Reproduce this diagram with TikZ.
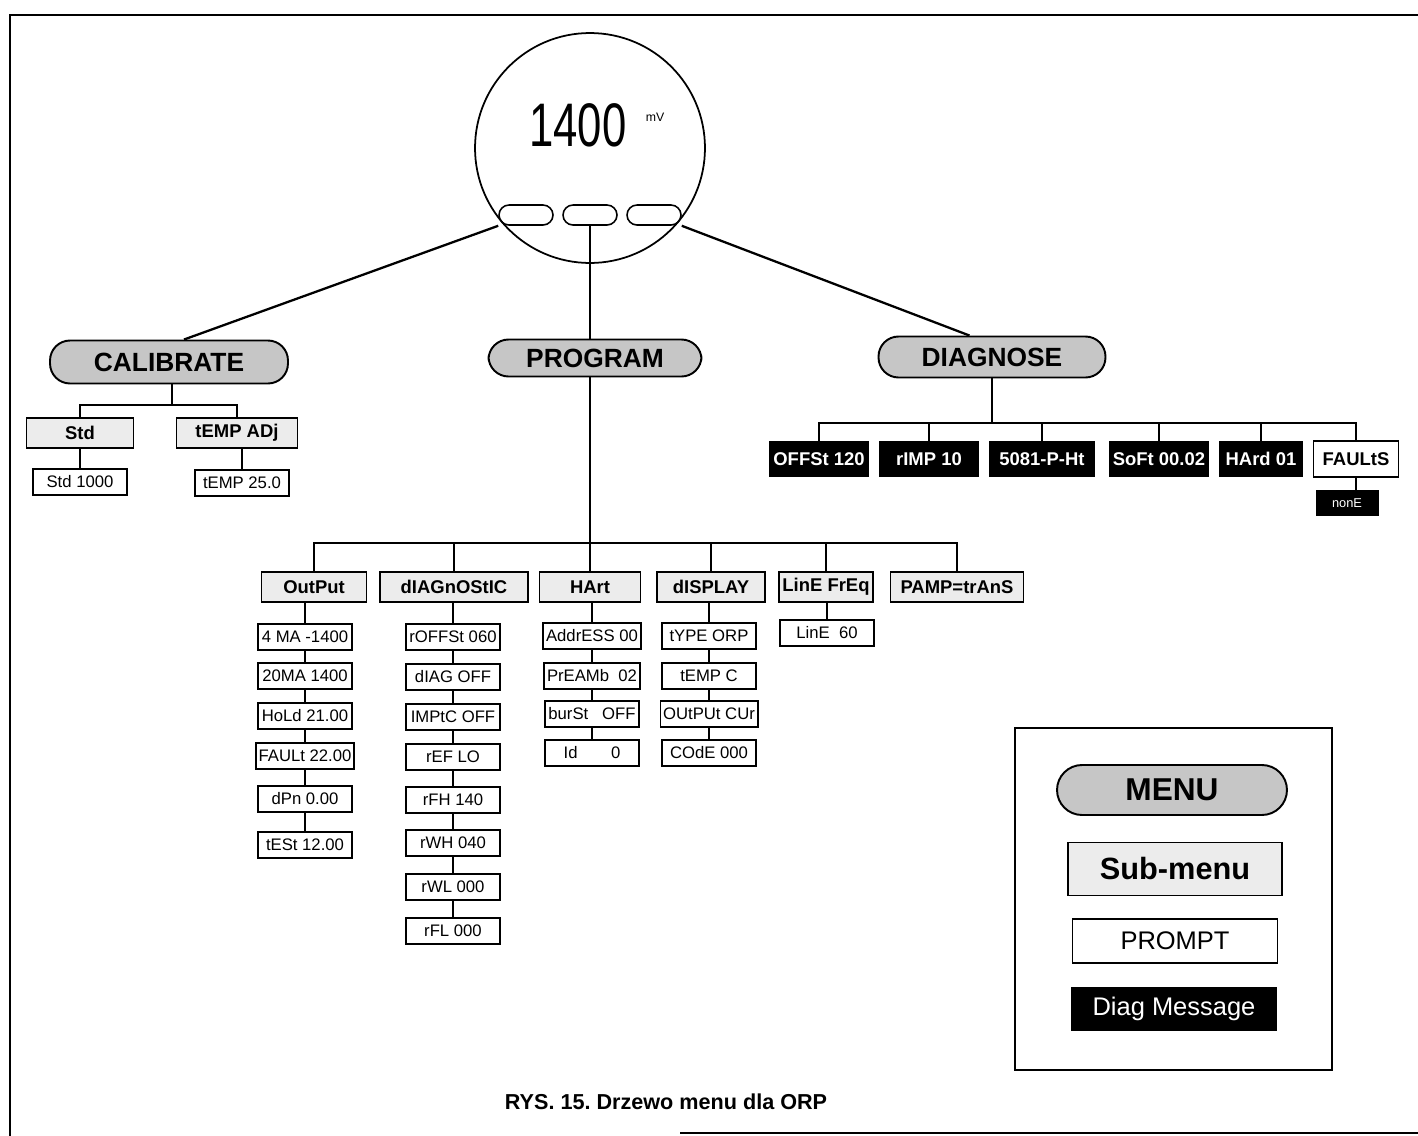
\documentclass[tikz,border=0pt]{standalone}
\usepackage{fontspec}
\setmainfont{Liberation Sans}
\frenchspacing
\tikzset{
  menu/.style={draw, line width=1.1pt, fill=gray!45, rounded corners=0.4cm, inner sep=0pt, font=\fontsize{15}{16}\selectfont\bfseries},
  submenu/.style={draw, line width=1.1pt, fill=gray!15, minimum height=0.6cm, inner sep=0pt, font=\fontsize{10.5}{12}\selectfont\bfseries},
  prompt/.style={draw, line width=1.1pt, fill=white, minimum width=1.88cm, minimum height=0.52cm, inner sep=0pt, inner xsep=1.5pt, font=\fontsize{9.5}{10}\selectfont},
  diagmsg/.style={fill=black, text=white, minimum height=0.72cm, inner sep=0pt, font=\fontsize{10.5}{12}\selectfont\bfseries},
  button/.style={draw, line width=0.9pt, rounded corners=0.2cm, minimum width=1.08cm, minimum height=0.4cm, inner sep=0pt},
  link/.style={line width=1.3pt},
}
\begin{document}
\begin{tikzpicture}[x=0.02cm, y=-0.02cm]
\useasboundingbox (0,0) rectangle (1418,1136);
% frame
\draw[line width=1.2pt] (10,1136) -- (10,15) -- (1418,15);
\draw[line width=1.2pt] (680,1133) -- (1418,1133);

% meter face
\node[circle, draw, line width=1pt, minimum size=4.6cm] (dial) at (590,148) {};
\node (disp) at (578,125) {\scalebox{0.71}[1]{\fontsize{35}{35}\selectfont 1400}};
\node (unit) at (655,117) {\fontsize{7}{8}\selectfont mV};
\node[button] (btnl) at (526,215) {};
\node[button] (btnm) at (590,215) {};
\node[button] (btnr) at (654,215) {};

% menus
\node[menu, minimum width=4.76cm, minimum height=0.86cm] (cal) at (169,362) {CALIBRATE};
\node[menu, minimum width=4.26cm, minimum height=0.74cm] (prog) at (595,358) {PROGRAM};
\node[menu, minimum width=4.54cm, minimum height=0.82cm] (diag) at (992,357) {DIAGNOSE};
\draw[link] (btnl.south west) -- ([xshift=0.3cm]cal.north);
\draw[link] (btnm.south) -- (btnm.south |- prog.north);
\draw[link] (btnr.south east) -- ([xshift=-0.45cm]diag.north);

% CALIBRATE branch
\node[submenu, minimum width=2.14cm] (std) at (80,433) {Std};
\node[submenu, minimum width=2.42cm] (tadj) at (237,433) {tEMP ADj};
\node[prompt] (stdval) at (80,482) {Std 1000};
\node[prompt] (tval) at (242,483) {tEMP 25.0};
\coordinate (calbus) at (172,405);
\draw[link] (cal.south -| calbus) -- (calbus);
\draw[link] (std.north) |- (calbus);
\draw[link] (tadj.north) |- (calbus);
\draw[link] (std.south -| stdval.north) -- (stdval.north);
\draw[link] (tadj.south -| tval.north) -- (tval.north);

% DIAGNOSE branch
\node[diagmsg, minimum width=2cm] (offst) at (819,459) {OFFSt 120};
\node[diagmsg, minimum width=2cm] (rimp) at (929,459) {rIMP 10};
\node[diagmsg, minimum width=2.12cm] (probe) at (1042,459) {5081-P-Ht};
\node[diagmsg, minimum width=2cm] (soft) at (1159,459) {SoFt 00.02};
\node[diagmsg, minimum width=1.68cm] (hard) at (1261,459) {HArd 01};
\node[prompt, minimum width=1.7cm, minimum height=0.72cm, font=\fontsize{10.5}{12}\selectfont\bfseries] (faults) at (1356,459) {FAULtS};
\node[diagmsg, minimum width=1.26cm, minimum height=0.52cm, font=\fontsize{7.3}{8}\selectfont] (none) at (1347,503) {nonE};
\coordinate (diagbus) at (992,423);
\draw[link] (diag.south -| diagbus) -- (diagbus);
\draw[link] (offst.north) |- (diagbus);
\draw[link] (rimp.north) |- (diagbus);
\draw[link] (probe.north) |- (diagbus);
\draw[link] (soft.north) |- (diagbus);
\draw[link] (hard.north) |- (diagbus);
\draw[link] (faults.north) |- (diagbus);
\draw[link] (faults.south) -- (faults.south |- none.north);

% PROGRAM branch
\node[submenu, minimum width=2.1cm] (out) at (314,587) {OutPut};
\node[submenu, minimum width=2.96cm] (dgn) at (454,587) {dIAGnOStIC};
\node[submenu, minimum width=2.02cm] (hart) at (590,587) {HArt};
\node[submenu, minimum width=2.16cm] (dsp) at (711,587) {dISPLAY};
\node[submenu, minimum width=1.88cm] (line) at (826,587) {LinE FrEq};
\node[submenu, minimum width=2.66cm] (pamp) at (957,587) {PAMP=trAnS};
\coordinate (progbus) at (590,543);
\draw[link] (prog.south -| progbus) -- (progbus);
\draw[link] (out.north) |- (progbus);
\draw[link] (dgn.north) |- (progbus);
\draw[link] (hart.north) |- (progbus);
\draw[link] (dsp.north) |- (progbus);
\draw[link] (line.north) |- (progbus);
\draw[link] (pamp.north) |- (progbus);

% OutPut prompts
\node[prompt] (o1) at (305,637) {4 MA -1400};
\node[prompt] (o2) at (305,676) {20MA 1400};
\node[prompt] (o3) at (305,716) {HoLd 21.00};
\node[prompt] (o4) at (305,756) {FAULt 22.00};
\node[prompt] (o5) at (305,799) {dPn 0.00};
\node[prompt] (o6) at (305,845) {tESt 12.00};
\draw[link] (out.south -| o1.north) -- (o1.north);
\draw[link] (o1) -- (o2) -- (o3) -- (o4) -- (o5) -- (o6);

% dIAGnOStIC prompts
\node[prompt] (d1) at (453,637) {rOFFSt 060};
\node[prompt] (d2) at (453,677) {dIAG OFF};
\node[prompt] (d3) at (453,717) {IMPtC OFF};
\node[prompt] (d4) at (453,757) {rEF LO};
\node[prompt] (d5) at (453,800) {rFH 140};
\node[prompt] (d6) at (453,843) {rWH 040};
\node[prompt] (d7) at (453,887) {rWL 000};
\node[prompt] (d8) at (453,931) {rFL 000};
\draw[link] (dgn.south -| d1.north) -- (d1.north);
\draw[link] (d1) -- (d2) -- (d3) -- (d4) -- (d5) -- (d6) -- (d7) -- (d8);

% HArt prompts
\node[prompt] (h1) at (592,636) {AddrESS 00};
\node[prompt] (h2) at (592,676) {PrEAMb\ \ 02};
\node[prompt] (h3) at (592,714) {burSt\ \ \ OFF};
\node[prompt] (h4) at (592,753) {Id\qquad 0};
\draw[link] (hart.south -| h1.north) -- (h1.north);
\draw[link] (h1) -- (h2) -- (h3) -- (h4);

% dISPLAY prompts
\node[prompt] (s1) at (709,636) {tYPE ORP};
\node[prompt] (s2) at (709,676) {tEMP C};
\node[prompt] (s3) at (709,714) {OUtPUt CUr};
\node[prompt] (s4) at (709,753) {COdE 000};
\draw[link] (dsp.south -| s1.north) -- (s1.north);
\draw[link] (s1) -- (s2) -- (s3) -- (s4);

% LinE FrEq prompt
\node[prompt] (l1) at (827,633) {LinE\ \ 60};
\draw[link] (line.south -| l1.north) -- (l1.north);

% legend
\draw[line width=1.2pt] (1015,728) rectangle (1332,1070);
\node[menu, minimum width=4.6cm, minimum height=1cm, rounded corners=0.5cm, font=\fontsize{18}{20}\selectfont\bfseries] (lgmenu) at (1172,790) {MENU};
\node[submenu, minimum width=4.28cm, minimum height=1.06cm, font=\fontsize{17.5}{20}\selectfont\bfseries] (lgsub) at (1175,869) {Sub-menu};
\node[prompt, minimum width=4.1cm, minimum height=0.88cm, font=\fontsize{14.5}{16}\selectfont] (lgprompt) at (1175,941) {PROMPT};
\node[diagmsg, minimum width=4.14cm, minimum height=0.88cm, font=\fontsize{14.5}{16}\selectfont] (lgdiag) at (1174,1009) {Diag Message};

% caption
\node[font=\fontsize{12.3}{14}\selectfont\bfseries] (caption) at (666,1102) {RYS. 15. Drzewo menu dla ORP};
\end{tikzpicture}
\end{document}
